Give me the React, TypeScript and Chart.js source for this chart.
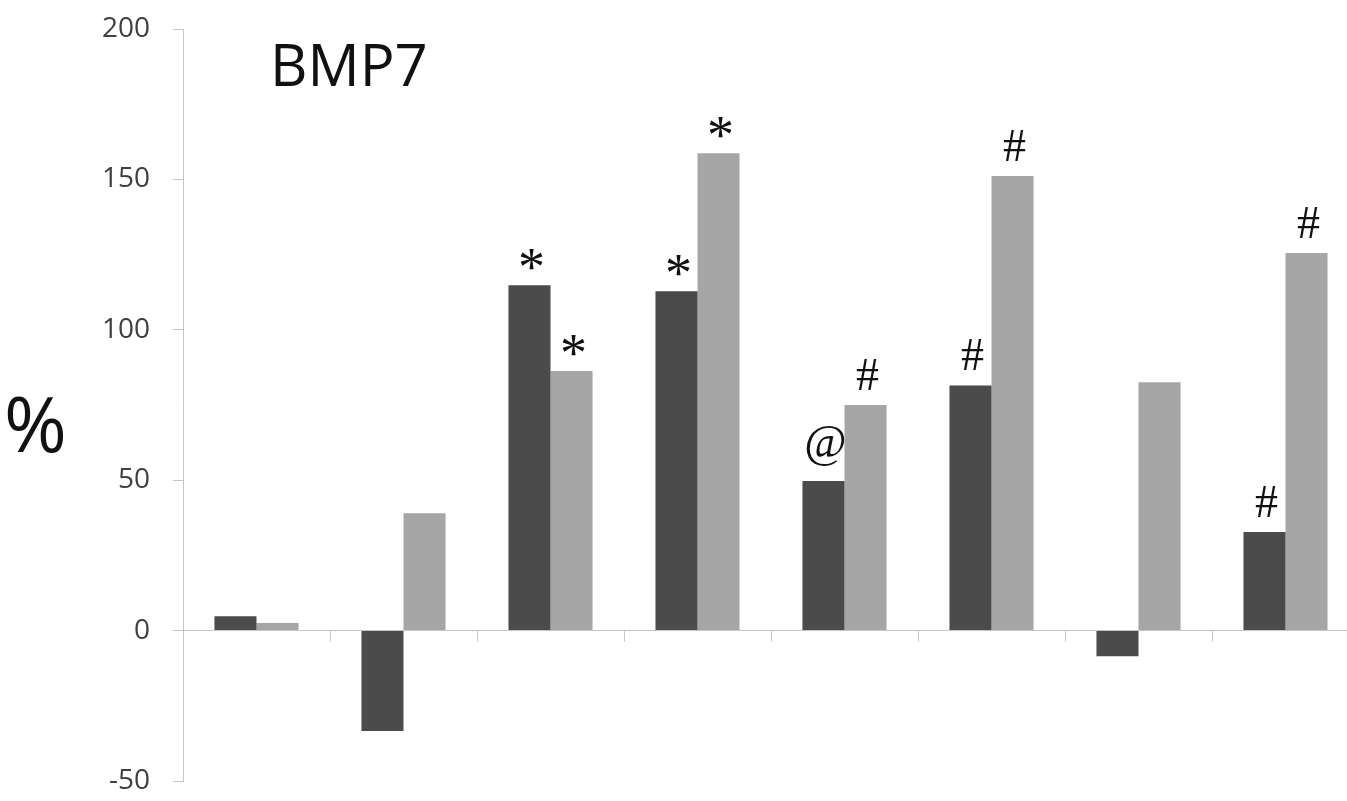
import React, { useEffect, useRef } from "react";
import { Chart, registerables } from "chart.js";

Chart.register(...registerables);

const categories = ["1", "2", "3", "4", "5", "6", "7", "8"];
const darkValues = [4.8, -33.4, 114.8, 112.8, 49.7, 81.5, -8.5, 32.8];
const lightValues = [2.5, 39.0, 86.3, 158.7, 75.0, 151.1, 82.6, 125.5];
const darkMarks = ["", "", "*", "*", "@", "#", "", "#"];
const lightMarks = ["", "", "*", "*", "#", "#", "", "#"];
const yTicks = [-50, 0, 50, 100, 150, 200];
const titleText = "BMP7";
const yAxisText = "%";

const AXIS_COLOR = "#c6c6c6";

const decorPlugin = {
  id: "decor",
  afterDatasetsDraw(chart: any) {
    const ctx = chart.ctx;
    const x = chart.scales.x;
    const y = chart.scales.y;
    const y0 = y.getPixelForValue(0);
    ctx.save();
    // category boundary tick marks on the zero line
    ctx.strokeStyle = AXIS_COLOR;
    ctx.lineWidth = 1;
    for (let i = 1; i <= categories.length; i++) {
      const bx = (x.getPixelForValue(i - 1) + x.getPixelForValue(i)) / 2;
      ctx.beginPath();
      ctx.moveTo(Math.round(bx) + 0.5, y0);
      ctx.lineTo(Math.round(bx) + 0.5, y0 + 11);
      ctx.stroke();
    }
    // significance marks
    ctx.fillStyle = "#111";
    ctx.textAlign = "center";
    ctx.textBaseline = "alphabetic";
    const marks = [darkMarks, lightMarks];
    marks.forEach((list, di) => {
      const meta = chart.getDatasetMeta(di);
      list.forEach((m, i) => {
        if (!m) return;
        const bar = meta.data[i];
        const top = Math.min(bar.y, bar.base);
        ctx.font = m === "*" ? "54px 'Liberation Serif'" : "46px 'Liberation Serif'";
        const desc = ctx.measureText(m).actualBoundingBoxDescent;
        ctx.fillText(m, bar.x + 2, top - 15 - desc);
      });
    });
    // title and y label
    ctx.fillStyle = "#111";
    ctx.textAlign = "left";
    ctx.font = "58px 'Open Sans'";
    ctx.fillText(titleText, 270, 86);
    ctx.font = "76px 'Open Sans'";
    ctx.fillText(yAxisText, 4, 452);
    ctx.restore();
  },
};

export default function App() {
  const ref = useRef<HTMLCanvasElement>(null);
  useEffect(() => {
    document.body.style.margin = "0";
    const chart = new Chart(ref.current as HTMLCanvasElement, {
      type: "bar",
      data: {
        labels: categories,
        datasets: [
          {
            data: darkValues,
            backgroundColor: "#4b4b4b",
            borderWidth: 0,
            barPercentage: 1,
            categoryPercentage: 0.572,
          },
          {
            data: lightValues,
            backgroundColor: "#a6a6a6",
            borderWidth: 0,
            barPercentage: 1,
            categoryPercentage: 0.572,
          },
        ],
      },
      options: {
        responsive: false,
        animation: false,
        devicePixelRatio: 1,
        layout: { padding: { top: 29, bottom: 20, left: 0, right: 3 } },
        plugins: {
          legend: { display: false },
          tooltip: { enabled: false },
          title: { display: false },
        },
        scales: {
          x: { display: false },
          y: {
            min: -50,
            max: 200,
            afterFit: (s: any) => {
              s.width = 183;
              s.paddingTop = 0;
              s.paddingBottom = 0;
            },
            afterBuildTicks: (s: any) => {
              s.ticks = yTicks.map((v) => ({ value: v }));
            },
            border: { display: true, color: AXIS_COLOR, width: 1 },
            grid: {
              drawOnChartArea: true,
              drawTicks: true,
              tickLength: 10,
              color: (c: any) => (c.tick && c.tick.value === 0 ? AXIS_COLOR : "rgba(0,0,0,0)"),
              tickColor: AXIS_COLOR,
            },
            ticks: {
              padding: 23,
              color: "#404040",
              font: { family: "'Open Sans'", size: 28 },
            },
          },
        },
      },
      plugins: [decorPlugin],
    });
    return () => chart.destroy();
  }, []);
  return (
    <div style={{ position: "fixed", left: 0, top: 0, width: 1347, height: 801, overflow: "hidden", background: "#fff" }}>
      <canvas ref={ref} width={1362} height={801} style={{ display: "block" }} />
    </div>
  );
}
